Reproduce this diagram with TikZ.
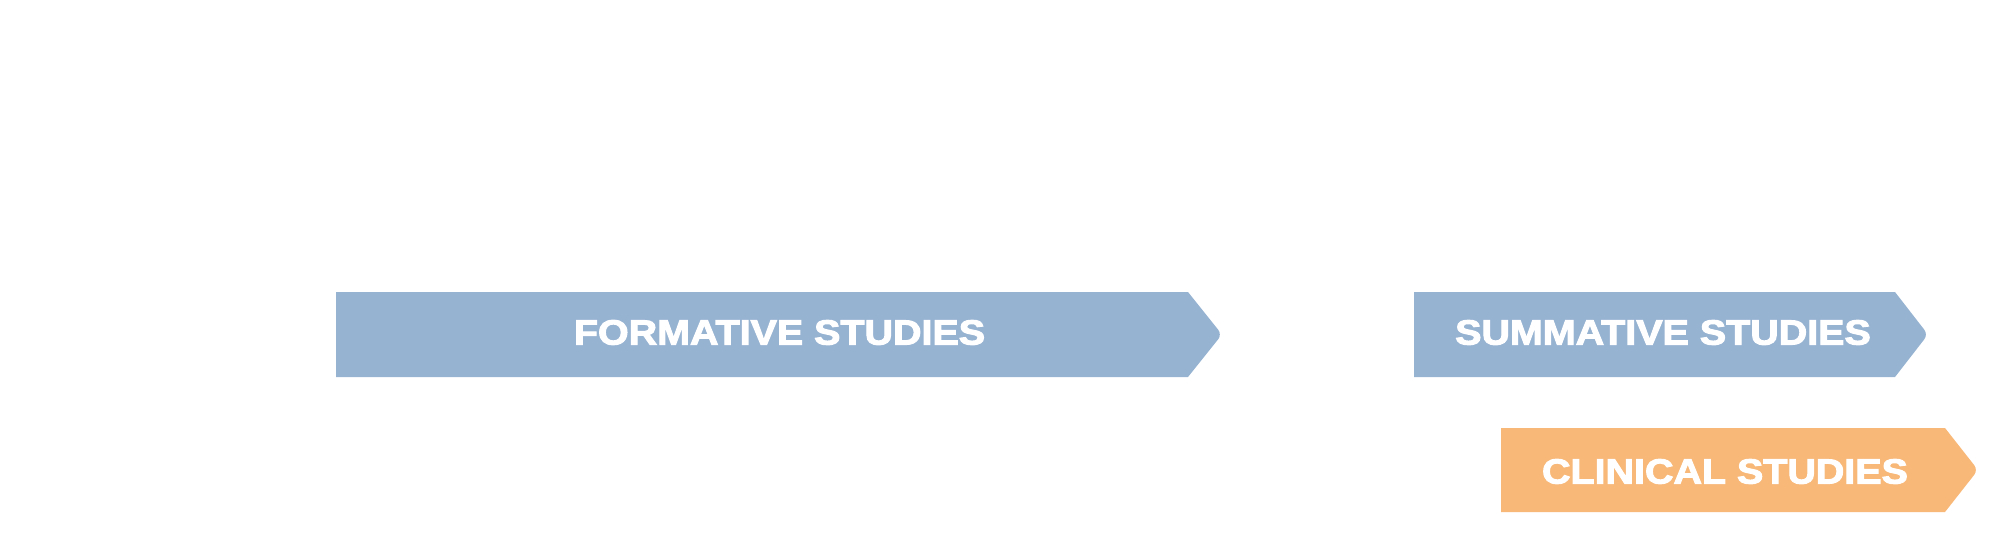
\documentclass[tikz,border=0pt]{standalone}
\usepackage{fontspec}
\newfontfamily\stagefont{Liberation Sans}[BoldFont={Liberation Sans Bold},
  BoldFeatures={FakeStretch=1.13,FakeBold=3}]
\definecolor{formblue}{HTML}{97B3D2}
\definecolor{clinorange}{HTML}{F8B878}

\begin{document}
\begin{tikzpicture}[x=1pt,y=-1pt,
  stagelabel/.style={anchor=base, text=white, inner sep=0pt,
    font=\stagefont\bfseries\fontsize{34.9pt}{40pt}\selectfont}]
\useasboundingbox (0,0) rectangle (2001,547);

% arrow shaped stages
\fill[formblue] (336,292) -- (1188,292) [rounded corners=6pt] -- (1222,334.5)
  [sharp corners] -- (1188,377) -- (336,377) -- cycle;
\fill[formblue] (1414,292) -- (1895,292) [rounded corners=6pt] -- (1928,334.5)
  [sharp corners] -- (1895,377) -- (1414,377) -- cycle;
\fill[clinorange] (1501,428) -- (1945,428) [rounded corners=6pt] -- (1978,470)
  [sharp corners] -- (1945,512) -- (1501,512) -- cycle;

\node[stagelabel] (formative) at (779.5,344.5) {FORMATIVE STUDIES};
\node[stagelabel] (summative) at (1663,344.5) {SUMMATIVE STUDIES};
\node[stagelabel] (clinical) at (1725,483.5) {CLINICAL STUDIES};
\end{tikzpicture}
\end{document}
